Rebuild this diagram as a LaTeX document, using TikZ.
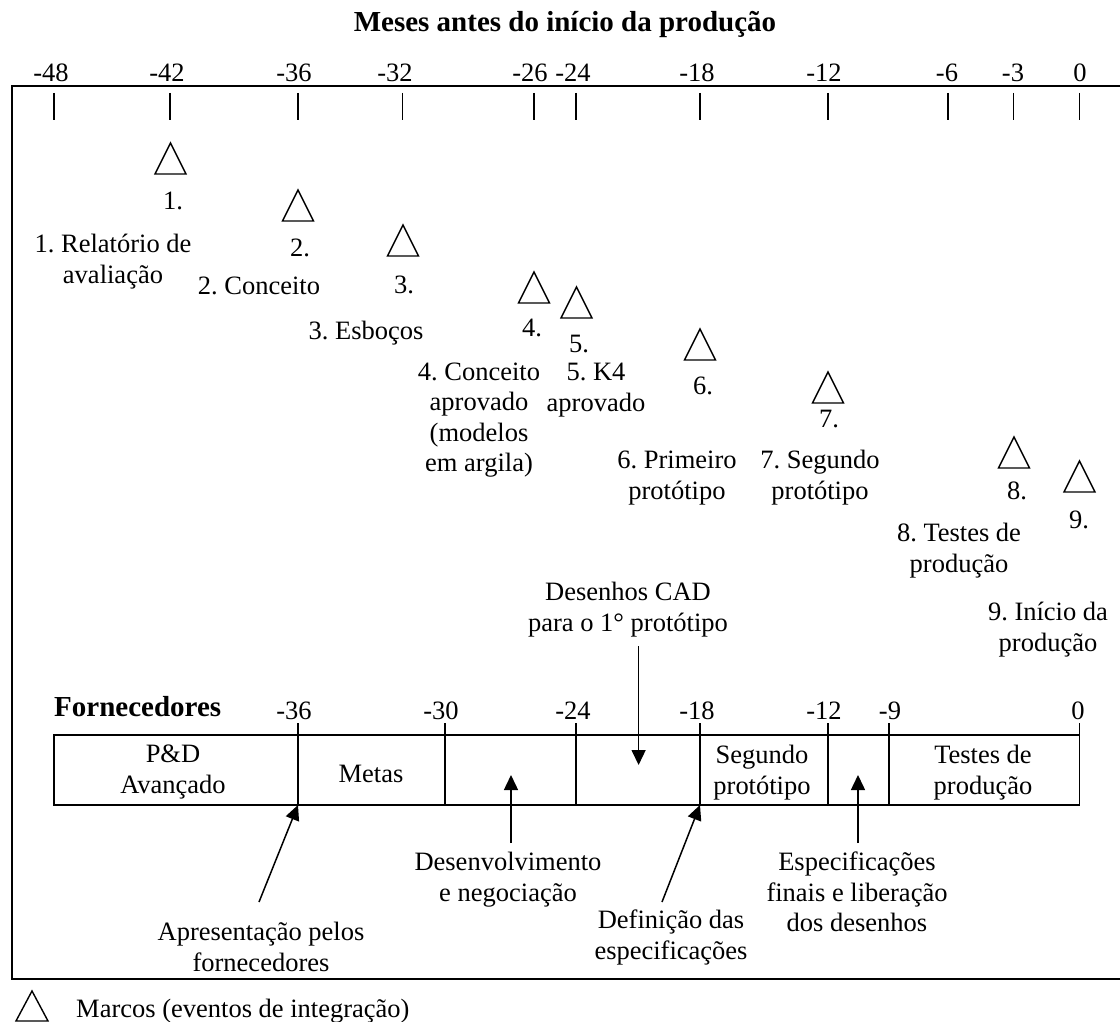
\documentclass[tikz,border=0pt]{standalone}
\usepackage{fontspec}
\setmainfont{Liberation Serif}
\usetikzlibrary{arrows.meta}
\frenchspacing
\begin{document}
\begin{tikzpicture}[x=1pt,y=-1pt,
  txt/.style={font=\fontsize{26.5}{30.5}\selectfont, align=center, inner sep=0pt},
  hd/.style={font=\fontsize{29}{33}\selectfont\bfseries, inner sep=0pt},
  arr/.style={line width=1.5pt, -{Triangle[length=15pt,width=14pt]}},
  ticmark/.style={line width=1.3pt},
  borda/.style={line width=1.6pt},
  marco/.style={line width=1.4pt, line join=miter}]
\useasboundingbox (0,0) rectangle (1120,1022);

% outer frame (open on the right)
\draw[borda] (1122,86) -- (12,86) -- (12,979) -- (1122,979);

% title
\node[hd] (titulo) at (565,25) {\strut Meses antes do início da produção};

% month scale on top
\foreach \v/\tx/\lx [count=\i] in {-48/54/51, -42/170/167, -36/298/294, -32/402.5/395,
    -26/534/530, -24/576/573, -18/700/697, -12/828/824, -6/948/947, -3/1013.6/1013, 0/1079.6/1080} {
  \draw[ticmark] (\tx,93) -- (\tx,120);
  \node[txt] (topo\i) at (\lx,75) {\strut\v};
}

% milestones (triangles) with their numbers
\foreach \n/\x/\yt/\lx/\ly in {1/170.5/143/173/203, 2/298/190/300/250, 3/403/225/404/287,
    4/534/272/532/330, 5/576.5/287/579/346, 6/700/329/703/388, 7/828/372/829/421,
    8/1014/437/1017/493, 9/1079.5/461/1079/522} {
  \draw[marco] ({\x-15.5},{\yt+31}) -- (\x,\yt) -- ({\x+15.5},{\yt+31}) -- cycle;
  \node[txt] (num\n) at (\lx,\ly) {\strut\n.};
}

% milestone descriptions
\node[txt] (d1) at (113,262) {\strut 1. Relatório de\\\strut avaliação};
\node[txt] (d2) at (259,288) {\strut 2. Conceito};
\node[txt] (d3) at (366,333) {\strut 3. Esboços};
\node[txt] (d4) at (479,420) {\strut 4. Conceito\\\strut aprovado\\\strut (modelos\\\strut em argila)};
\node[txt] (d5) at (596,390) {\strut 5. K4\\\strut aprovado};
\node[txt] (d6) at (677,478) {\strut 6. Primeiro\\\strut protótipo};
\node[txt] (d7) at (820,478) {\strut 7. Segundo\\\strut protótipo};
\node[txt] (d8) at (959,551) {\strut 8. Testes de\\\strut produção};
\node[txt] (d9) at (1048,630) {\strut 9. Início da\\\strut produção};

% supplier time line
\node[hd, anchor=west] (forn) at (54,710) {\strut Fornecedores};
\foreach \v/\lx [count=\i] in {-36/294, -30/441, -24/573, -18/697, -12/824, -9/890, 0/1078} {
  \node[txt] (forn\i) at (\lx,713) {\strut\v};
}
\draw[borda] (54,735) rectangle (1079.6,805);
\foreach \x in {298,445,576,700,828,889,1079.6} {
  \draw[borda] (\x,723) -- (\x,805);
}

% phase names inside the bar
\node[txt] (fase1) at (173,772) {\strut P\&D\\\strut Avançado};
\node[txt] (fase2) at (371,776) {\strut Metas};
\node[txt] (fase5) at (762,773) {\strut Segundo\\\strut protótipo};
\node[txt] (fase7) at (983,773) {\strut Testes de\\\strut produção};

% annotations and their arrows
\node[txt] (cad) at (628,610) {\strut Desenhos CAD\\\strut para o 1° protótipo};
\coordinate (cadA) at (638.6,646);
\coordinate (cadB) at (638.6,765);
\draw[arr] (cadA) -- (cadB);

\node[txt] (dev) at (508,880) {\strut Desenvolvimento\\\strut e negociação};
\coordinate (devA) at (511,843);
\coordinate (devB) at (511,775);
\draw[arr] (devA) -- (devB);

\node[txt] (esp) at (857,895) {\strut Especificações\\\strut finais e liberação\\\strut dos desenhos};
\coordinate (espA) at (858,843);
\coordinate (espB) at (858,775);
\draw[arr] (espA) -- (espB);

\node[txt] (apr) at (261,950) {\strut Apresentação pelos\\\strut fornecedores};
\coordinate (aprA) at (259,902);
\coordinate (aprB) at (298,805);
\draw[arr] (aprA) -- (aprB);

\node[txt] (def) at (671,938) {\strut Definição das\\\strut especificações};
\coordinate (defA) at (662,902);
\coordinate (defB) at (700,805);
\draw[arr] (defA) -- (defB);

% legend
\draw[marco] (16,1021) -- (32,991) -- (48,1021) -- cycle;
\node[txt, anchor=west] (leg) at (76,1011) {\strut Marcos (eventos de integração)};
\end{tikzpicture}
\end{document}
